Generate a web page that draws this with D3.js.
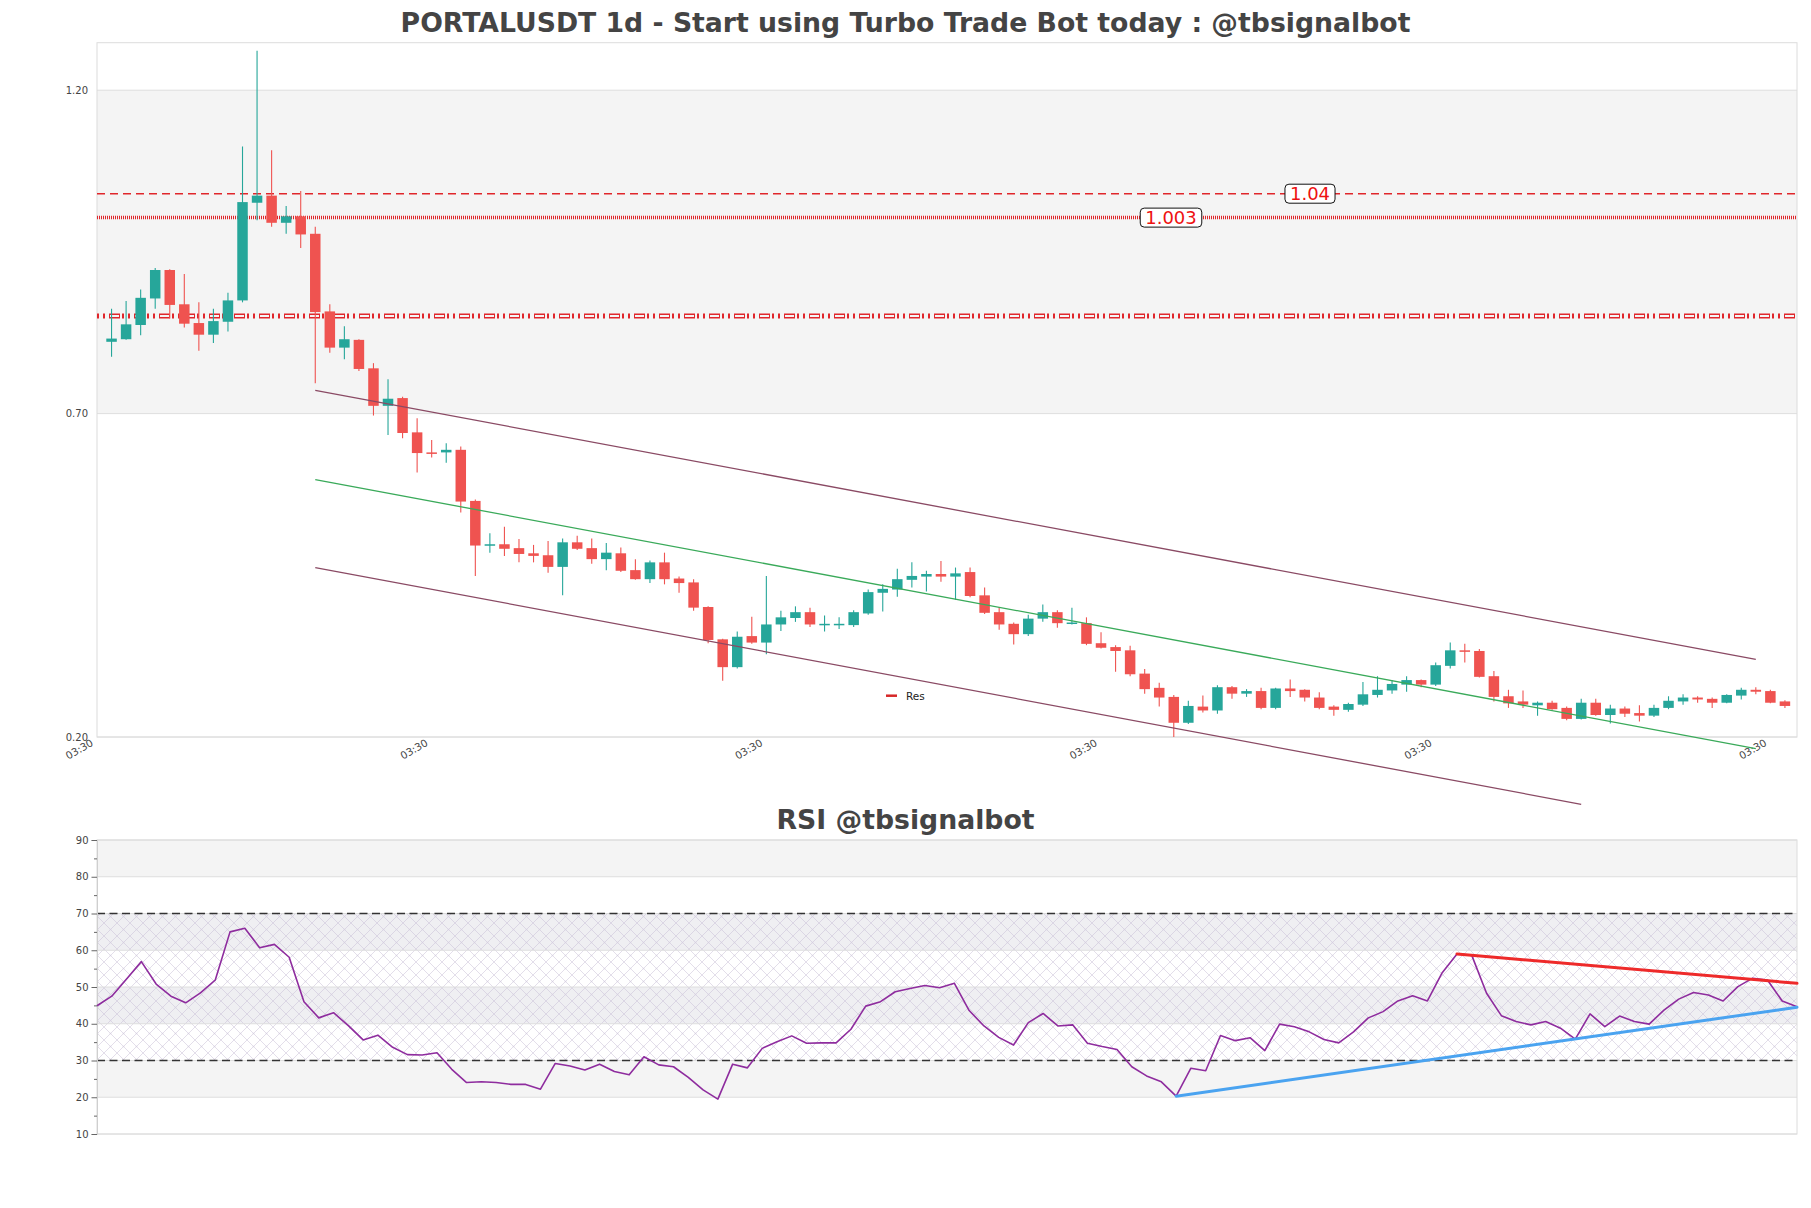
<!DOCTYPE html>
<html><head><meta charset="utf-8">
<script src="https://cdn.jsdelivr.net/npm/d3@7"></script>
<style>
body{margin:0;background:#fff;}
svg{display:block;font-family:"DejaVu Sans",sans-serif;}
</style>
</head><body>
<svg id="chart" width="1811" height="1208"></svg>
<script>
// ---------------- DATA ----------------
const titleMain = "PORTALUSDT 1d - Start using Turbo Trade Bot today : @tbsignalbot";
const titleRsi = "RSI @tbsignalbot";

const opens  = [0.811,0.815,0.837,0.878,0.922,0.869,0.840,0.822,0.842,0.875,1.026,1.037,0.995,1.005,0.978,0.858,0.802,0.814,0.770,0.712,
 0.724,0.671,0.640,0.640,0.644,0.565,0.497,0.498,0.492,0.484,0.481,0.463,0.501,0.492,0.475,0.484,0.458,0.444,0.470,0.445,
 0.439,0.401,0.351,0.308,0.356,0.346,0.374,0.384,0.393,0.374,0.374,0.373,0.391,0.423,0.428,0.443,0.448,0.452,0.448,0.455,
 0.419,0.393,0.375,0.359,0.383,0.393,0.376,0.376,0.345,0.339,0.334,0.298,0.276,0.262,0.222,0.247,0.241,0.277,0.267,0.271,
 0.245,0.275,0.273,0.261,0.247,0.242,0.250,0.265,0.272,0.281,0.288,0.281,0.310,0.334,0.333,0.294,0.263,0.255,0.249,0.253,
 0.245,0.228,0.253,0.234,0.244,0.237,0.233,0.245,0.255,0.261,0.259,0.253,0.264,0.273,0.271,0.255];
const highs  = [0.862,0.874,0.892,0.925,0.923,0.916,0.872,0.862,0.887,1.113,1.261,1.107,1.021,1.044,0.989,0.869,0.835,0.815,0.778,0.753,
 0.726,0.693,0.659,0.654,0.649,0.567,0.515,0.525,0.506,0.497,0.503,0.507,0.511,0.507,0.500,0.493,0.475,0.473,0.485,0.448,
 0.444,0.402,0.352,0.363,0.386,0.449,0.395,0.402,0.400,0.388,0.385,0.396,0.428,0.436,0.460,0.470,0.457,0.472,0.462,0.462,
 0.431,0.401,0.377,0.389,0.405,0.396,0.400,0.385,0.362,0.342,0.341,0.305,0.284,0.265,0.256,0.264,0.280,0.279,0.274,0.276,
 0.276,0.289,0.274,0.269,0.249,0.253,0.285,0.294,0.288,0.294,0.289,0.315,0.346,0.344,0.336,0.302,0.273,0.272,0.255,0.256,
 0.247,0.259,0.259,0.250,0.247,0.249,0.250,0.263,0.266,0.263,0.261,0.266,0.276,0.277,0.273,0.257];
const lows   = [0.788,0.814,0.821,0.862,0.847,0.833,0.797,0.809,0.827,0.872,0.999,0.989,0.978,0.956,0.747,0.794,0.784,0.766,0.697,0.667,
 0.662,0.609,0.632,0.624,0.547,0.449,0.485,0.480,0.470,0.470,0.454,0.419,0.489,0.468,0.458,0.455,0.443,0.438,0.436,0.423,
 0.395,0.345,0.287,0.306,0.344,0.328,0.364,0.378,0.370,0.363,0.367,0.370,0.389,0.394,0.417,0.431,0.425,0.440,0.412,0.416,
 0.390,0.366,0.343,0.356,0.378,0.369,0.374,0.342,0.337,0.301,0.294,0.267,0.247,0.200,0.220,0.238,0.236,0.259,0.262,0.243,
 0.243,0.262,0.255,0.243,0.233,0.239,0.248,0.261,0.267,0.270,0.277,0.279,0.306,0.315,0.292,0.255,0.245,0.245,0.233,0.242,
 0.226,0.227,0.233,0.221,0.231,0.224,0.231,0.243,0.250,0.253,0.245,0.252,0.258,0.266,0.252,0.245];
const closes = [0.816,0.838,0.879,0.922,0.868,0.839,0.822,0.843,0.875,1.027,1.037,0.995,1.005,0.977,0.857,0.802,0.815,0.769,0.712,0.723,
 0.670,0.639,0.638,0.644,0.564,0.496,0.498,0.491,0.483,0.480,0.463,0.501,0.491,0.475,0.485,0.457,0.444,0.470,0.444,0.438,
 0.400,0.350,0.308,0.355,0.346,0.374,0.385,0.393,0.374,0.375,0.375,0.393,0.424,0.429,0.444,0.449,0.452,0.448,0.453,0.418,
 0.392,0.374,0.359,0.383,0.393,0.376,0.377,0.344,0.338,0.333,0.297,0.274,0.261,0.222,0.248,0.241,0.277,0.267,0.271,0.245,
 0.275,0.271,0.261,0.245,0.242,0.251,0.266,0.273,0.282,0.288,0.281,0.311,0.334,0.332,0.293,0.262,0.252,0.250,0.253,0.243,
 0.228,0.253,0.234,0.244,0.236,0.233,0.245,0.256,0.261,0.258,0.253,0.265,0.273,0.270,0.253,0.248];

const rsiValues = [44.9,47.5,52.2,56.9,50.8,47.5,45.7,48.4,51.9,65.0,66.0,60.7,61.6,58.1,46.0,41.6,43.0,39.5,35.6,36.9,
 33.6,31.6,31.5,32.1,27.6,24.0,24.2,24.0,23.5,23.5,22.2,29.2,28.5,27.4,29.0,27.0,26.1,31.0,28.8,28.3,
 25.4,22.0,19.5,29.0,28.0,33.3,35.1,36.7,34.7,34.8,34.8,38.5,44.8,46.0,48.7,49.6,50.4,49.8,51.0,43.6,
 39.4,36.3,34.2,40.3,42.8,39.4,39.7,34.7,33.8,33.0,28.3,25.8,24.2,20.3,27.9,27.2,36.8,35.4,36.2,32.7,
 39.9,39.2,37.8,35.7,34.8,37.8,41.6,43.3,46.2,47.6,46.2,53.9,59.0,58.6,48.3,42.2,40.6,39.7,40.6,38.8,
 35.8,42.7,39.2,42.1,40.6,39.9,43.7,46.7,48.5,47.8,46.2,50.1,52.4,51.9,46.2,44.6];

const xTickDays   = [0, 23, 46, 69, 92, 115];
const xTickLabels = ["03:30","03:30","03:30","03:30","03:30","03:30"];
const priceTicks  = [0.2, 0.7, 1.2];
const rsiTicks    = [10, 20, 30, 40, 50, 60, 70, 80, 90];
const rsiMinorTicks = [15, 25, 35, 45, 55, 65, 75, 85];

const levelValues = [1.04, 1.003, 0.851];
const levelLabels = ["1.04", "1.003", null];

// channel lines: [startDay, startValue, endDay, endValue]
const channelUpper  = [15, 0.736, 114, 0.320];
const channelMiddle = [15, 0.598, 114, 0.182];
const channelLower  = [15, 0.462, 102, 0.096];

// RSI trend lines: [startIndex, startValue, endIndex, endValue]
const rsiResLine = [92, 59.0, 115, 51.0];
const rsiSupLine = [73, 20.3, 115, 44.5];

const legendLabel = "Res";

// ---------------- LAYOUT ----------------
const svg = d3.select("#chart");
const M = {left: 97, right: 1797, top: 42.7, bottom: 737};
const R = {left: 97, right: 1797, top: 840, bottom: 1134};
const UP = "#26a69a", DOWN = "#ef5350";
const RED = "#e0262b";

const n = closes.length;
const x = d3.scaleLinear().domain([0, 116.83]).range([M.left, M.right]);
const y = d3.scaleLinear().domain([0.2, 0.2 + (M.bottom - M.top) / 646.8]).range([M.bottom, M.top]);
const xr = d3.scaleLinear().domain([0, n - 1]).range([R.left, R.right]);
const yr = d3.scaleLinear().domain([10, 90]).range([R.bottom, R.top]);

// defs: hatch pattern
const defs = svg.append("defs");
const pat = defs.append("pattern").attr("id","hatch").attr("patternUnits","userSpaceOnUse")
  .attr("width",13).attr("height",13);
pat.append("path").attr("d","M0,0 L13,13 M13,0 L0,13").attr("stroke","#c9c0d6")
  .attr("stroke-width",0.7).attr("opacity",0.75);
pat.append("circle").attr("cx",6.5).attr("cy",6.5).attr("r",0.8).attr("fill","#d6cfe0");

// ---------------- TITLES ----------------
svg.append("text").attr("x", 905.5).attr("y", 31.7).attr("text-anchor","middle")
  .attr("font-size",26.7).attr("font-weight","bold").attr("fill","#444").text(titleMain);
svg.append("text").attr("x", 905.5).attr("y", 829.3).attr("text-anchor","middle")
  .attr("font-size",26.7).attr("font-weight","bold").attr("fill","#444").text(titleRsi);

// ---------------- MAIN CHART ----------------
const gm = svg.append("g");
gm.append("rect").attr("x",M.left).attr("y",M.top).attr("width",M.right-M.left).attr("height",M.bottom-M.top)
  .attr("fill","#fff");
gm.append("rect").attr("x",M.left).attr("y",y(1.2)).attr("width",M.right-M.left).attr("height",y(0.7)-y(1.2))
  .attr("fill","#f4f4f4");
gm.selectAll("line.grid").data(priceTicks).join("line").attr("class","grid")
  .attr("x1",M.left).attr("x2",M.right).attr("y1",d=>y(d)).attr("y2",d=>y(d))
  .attr("stroke","#dedede").attr("stroke-width",1);
gm.append("rect").attr("x",M.left).attr("y",M.top).attr("width",M.right-M.left).attr("height",M.bottom-M.top)
  .attr("fill","none").attr("stroke","#dcdcdc").attr("stroke-width",1);

// y axis
const yAxis = d3.axisLeft(y).tickValues(priceTicks).tickFormat(d3.format(".2f")).tickSize(0).tickPadding(9);
const gya = gm.append("g").attr("transform",`translate(${M.left},0)`).call(yAxis);
gya.select(".domain").remove();
gya.selectAll("text").attr("font-size",10).attr("fill","#444").attr("font-family","DejaVu Sans");

// x axis labels
const xAxis = d3.axisBottom(x).tickValues(xTickDays).tickFormat((d,i)=>xTickLabels[i]).tickSize(0);
const gxa = gm.append("g").attr("transform",`translate(0,${M.bottom})`).call(xAxis);
gxa.select(".domain").remove();
gxa.selectAll("text").attr("font-size",10.3).attr("fill","#444").attr("font-family","DejaVu Sans")
  .attr("text-anchor","end").attr("dy",null).attr("y",null)
  .attr("transform","translate(-3.5,8) rotate(-30)");

// horizontal levels
function hline(v, attrs){
  const l = gm.append("line").attr("x1",M.left).attr("x2",M.right).attr("y1",y(v)).attr("y2",y(v));
  for (const k in attrs) l.attr(k, attrs[k]);
  return l;
}
hline(levelValues[0], {"stroke":RED,"stroke-width":1.5,"stroke-dasharray":"8 5"});
hline(levelValues[1], {"stroke":RED,"stroke-width":3.5,"stroke-dasharray":"1 1"});
hline(levelValues[2], {"stroke":RED,"stroke-width":5,"stroke-dasharray":"2 4 2 4 11 2"});
hline(levelValues[2], {"stroke":"#f4f4f4","stroke-width":2,"stroke-dasharray":"0 13 9 3"});

// candles
const idx = d3.range(n);
const bw = 10.5;
const gc = gm.append("g");
gc.selectAll("line.wick").data(idx).join("line").attr("class","wick")
  .attr("x1",i=>x(i+1)).attr("x2",i=>x(i+1))
  .attr("y1",i=>y(highs[i])).attr("y2",i=>y(lows[i]))
  .attr("stroke",i=>closes[i]>=opens[i]?UP:DOWN).attr("stroke-width",1.1);
gc.selectAll("rect.body").data(idx).join("rect").attr("class","body")
  .attr("x",i=>x(i+1)-bw/2).attr("width",bw)
  .attr("y",i=>y(Math.max(opens[i],closes[i])))
  .attr("height",i=>Math.max(1.5, Math.abs(y(opens[i])-y(closes[i]))))
  .attr("fill",i=>closes[i]>=opens[i]?UP:DOWN);

// channel lines
function seg(g, s, color, w){
  g.append("line").attr("x1",x(s[0])).attr("y1",y(s[1])).attr("x2",x(s[2])).attr("y2",y(s[3]))
    .attr("stroke",color).attr("stroke-width",w);
}
seg(gm, channelUpper, "#8a4a64", 1.3);
seg(gm, channelMiddle, "#3aaa5a", 1.3);
seg(gm, channelLower, "#8a4a64", 1.3);

// level labels
const labelPos = [1310, 1171];
levelLabels.forEach((t,i)=>{
  if(!t) return;
  const g = gm.append("g");
  const txt = g.append("text").attr("x",labelPos[i]).attr("y",y(levelValues[i])+6.3)
    .attr("text-anchor","middle").attr("font-size",18).attr("fill","#ee1111").text(t);
  const bb = txt.node().getBBox();
  g.insert("rect","text").attr("x",bb.x-5).attr("y",y(levelValues[i])-9.5)
    .attr("width",bb.width+10).attr("height",19).attr("rx",4)
    .attr("fill","#fff").attr("stroke","#111").attr("stroke-width",1);
});

// legend
gm.append("line").attr("x1",886).attr("x2",897).attr("y1",695.7).attr("y2",695.7)
  .attr("stroke","#d62728").attr("stroke-width",2.5);
gm.append("text").attr("x",906).attr("y",699.5).attr("font-size",10.5).attr("fill","#222").text(legendLabel);

// ---------------- RSI CHART ----------------
const gr = svg.append("g");
gr.append("rect").attr("x",R.left).attr("y",R.top).attr("width",R.right-R.left).attr("height",R.bottom-R.top).attr("fill","#fff");
const bands = [[80,90,"#f4f4f4"],[60,70,"#efeff2"],[40,50,"#efeff2"],[20,30,"#f4f4f4"]];
gr.selectAll("rect.band").data(bands).join("rect").attr("class","band")
  .attr("x",R.left).attr("width",R.right-R.left)
  .attr("y",d=>yr(d[1])).attr("height",d=>yr(d[0])-yr(d[1])).attr("fill",d=>d[2]);
gr.append("rect").attr("x",R.left).attr("width",R.right-R.left)
  .attr("y",yr(70)).attr("height",yr(30)-yr(70)).attr("fill","url(#hatch)");
gr.selectAll("line.grid").data(rsiTicks).join("line").attr("class","grid")
  .attr("x1",R.left).attr("x2",R.right).attr("y1",d=>yr(d)).attr("y2",d=>yr(d))
  .attr("stroke","#dedede").attr("stroke-width",1);
gr.append("rect").attr("x",R.left).attr("y",R.top).attr("width",R.right-R.left).attr("height",R.bottom-R.top)
  .attr("fill","none").attr("stroke","#dcdcdc").attr("stroke-width",1);
[30,70].forEach(v=>{
  gr.append("line").attr("x1",R.left).attr("x2",R.right).attr("y1",yr(v)).attr("y2",yr(v))
    .attr("stroke","#333").attr("stroke-width",1.3).attr("stroke-dasharray","8 4.5");
});

const rAxis = d3.axisLeft(yr).tickValues(rsiTicks).tickSize(5.5).tickPadding(3);
const gra = gr.append("g").attr("transform",`translate(${R.left},0)`).call(rAxis);
gra.select(".domain").attr("stroke","#cfcfcf");
gra.selectAll(".tick line").attr("stroke","#666");
gra.selectAll("text").attr("font-size",10).attr("fill","#444").attr("font-family","DejaVu Sans");
const rMinor = d3.axisLeft(yr).tickValues(rsiMinorTicks).tickSize(3).tickFormat("");
const grm = gr.append("g").attr("transform",`translate(${R.left},0)`).call(rMinor);
grm.select(".domain").remove();
grm.selectAll(".tick line").attr("stroke","#666");

const rsiLine = d3.line().x((d,i)=>xr(i)).y(d=>yr(d));
gr.append("path").datum(rsiValues).attr("d",rsiLine).attr("fill","none")
  .attr("stroke","#8e2c9e").attr("stroke-width",1.6).attr("stroke-linejoin","round");

function rseg(s, color){
  gr.append("line").attr("x1",xr(s[0])).attr("y1",yr(s[1])).attr("x2",xr(s[2])).attr("y2",yr(s[3]))
    .attr("stroke",color).attr("stroke-width",3).attr("stroke-linecap","round");
}
rseg(rsiResLine, "#ee2a2a");
rseg(rsiSupLine, "#4aa3f0");
</script>
</body></html>
